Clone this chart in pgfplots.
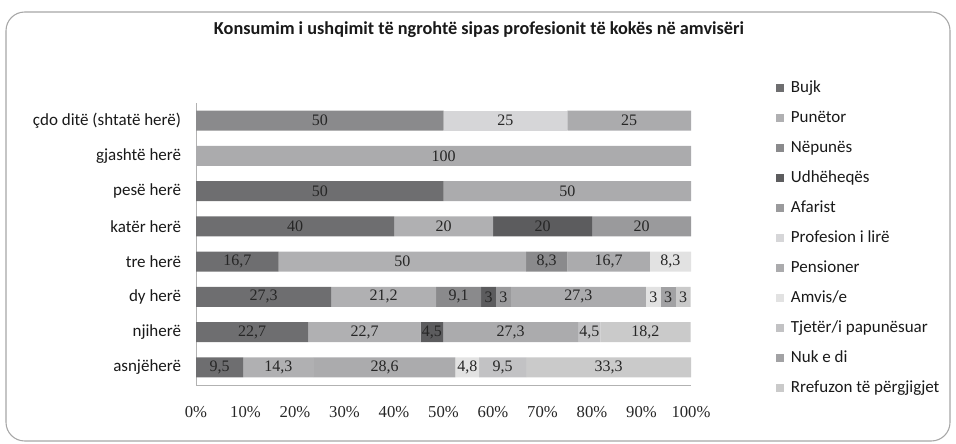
\documentclass[border=0pt]{standalone}
\usepackage{fontspec}
\setmainfont{Carlito}
\newfontfamily\serifnum{Liberation Serif}
\usepackage{pgfplots}
\pgfplotsset{compat=1.18}
\definecolor{cBujk}{HTML}{6E6E70}
\definecolor{cPun}{HTML}{B0B0B2}
\definecolor{cNep}{HTML}{8A8A8C}
\definecolor{cUdh}{HTML}{5C5C5E}
\definecolor{cAfa}{HTML}{9A9A9C}
\definecolor{cPro}{HTML}{D6D6D8}
\definecolor{cPen}{HTML}{ABABAD}
\definecolor{cAmv}{HTML}{E2E2E2}
\definecolor{cTje}{HTML}{C2C2C4}
\definecolor{cNuk}{HTML}{A2A2A4}
\definecolor{cRef}{HTML}{CACACA}
\begin{document}
\begin{tikzpicture}[x=0.75pt,y=0.75pt]
\path[use as bounding box] (0,0) rectangle (956,443);
\draw[color=black!35, line width=0.8pt, rounded corners=14] (6,2) rectangle (950,431);
\node[font=\fontsize{13.7}{16}\selectfont\bfseries, text=black!90] at (479,413) {Konsumim i ushqimit të ngrohtë sipas profesionit të kokës në amvisëri};
\coordinate (A) at (196,58);
\begin{axis}[at={(A)}, anchor=south west, scale only axis,
  width=371.25pt, height=211.5pt,
  xbar stacked, bar width=15pt,
  xmin=0, xmax=100, ymin=-0.5, ymax=7.5,
  axis x line*=bottom, axis y line*=left,
  axis line style={draw=black!30, -},
  major tick length=0pt,
  xtick={0,10,...,100},
  xticklabel={\pgfmathprintnumber{\tick}\%},
  /pgf/number format/assume math mode=true,
  xticklabel style={font=\serifnum\fontsize{12.5}{14}\selectfont, anchor=center, inner sep=0pt, yshift=-20pt, text=black!85},
  ytick={0,...,7},
  yticklabels={asnjëherë, njiherë, dy herë, tre herë, katër herë, pesë herë, gjashtë herë, çdo ditë (shtatë herë)},
  yticklabel style={font=\fontsize{12.75}{15}\selectfont, anchor=east, inner sep=0pt, xshift=-11pt, text=black!90},
  point meta=rawx,
  nodes near coords={\pgfmathfloatifflags{\pgfplotspointmeta}{0}{}{\pgfmathprintnumber[use comma]{\pgfplotspointmeta}}},
  every node near coord/.append style={anchor=center, font=\serifnum\fontsize{12}{14}\selectfont, text=black!85, inner sep=0pt},
  legend cell align=left,
  legend image code/.code={\fill[#1] (0pt,-3pt) rectangle (6pt,3pt); \path (11pt,0pt);},
  legend style={at={(axis description cs:1.1717,1.0816)}, anchor=north west, draw=none, fill=none, inner sep=0pt, row sep=10.5pt,
    nodes={inner sep=0pt, text height=9pt, text depth=3pt, font=\fontsize{12.75}{15}\selectfont, text=black!90}},
]
\addplot[fill=cBujk, draw=none] coordinates {(9.5,0) (22.7,1) (27.3,2) (16.7,3) (40,4) (50,5) (0,6) (0,7)};
\addlegendentry{Bujk}
\addplot[fill=cPun, draw=none] coordinates {(14.3,0) (22.7,1) (21.2,2) (50,3) (20,4) (0,5) (0,6) (0,7)};
\addlegendentry{Punëtor}
\addplot[fill=cNep, draw=none] coordinates {(0,0) (0,1) (9.1,2) (8.3,3) (0,4) (0,5) (0,6) (50,7)};
\addlegendentry{Nëpunës}
\addplot[fill=cUdh, draw=none] coordinates {(0,0) (4.5,1) (3,2) (0,3) (20,4) (0,5) (0,6) (0,7)};
\addlegendentry{Udhëheqës}
\addplot[fill=cAfa, draw=none] coordinates {(0,0) (0,1) (3,2) (0,3) (20,4) (0,5) (0,6) (0,7)};
\addlegendentry{Afarist}
\addplot[fill=cPro, draw=none] coordinates {(0,0) (0,1) (0,2) (0,3) (0,4) (0,5) (0,6) (25,7)};
\addlegendentry{Profesion i lirë}
\addplot[fill=cPen, draw=none] coordinates {(28.6,0) (27.3,1) (27.3,2) (16.7,3) (0,4) (50,5) (100,6) (25,7)};
\addlegendentry{Pensioner}
\addplot[fill=cAmv, draw=none] coordinates {(4.8,0) (0,1) (3,2) (8.3,3) (0,4) (0,5) (0,6) (0,7)};
\addlegendentry{Amvis/e}
\addplot[fill=cTje, draw=none] coordinates {(9.5,0) (4.5,1) (0,2) (0,3) (0,4) (0,5) (0,6) (0,7)};
\addlegendentry{Tjetër/i papunësuar}
\addplot[fill=cNuk, draw=none] coordinates {(0,0) (0,1) (3,2) (0,3) (0,4) (0,5) (0,6) (0,7)};
\addlegendentry{Nuk e di}
\addplot[fill=cRef, draw=none] coordinates {(33.3,0) (18.2,1) (3,2) (0,3) (0,4) (0,5) (0,6) (0,7)};
\addlegendentry{Rrefuzon të përgjigjet}
\end{axis}
\end{tikzpicture}
\end{document}
